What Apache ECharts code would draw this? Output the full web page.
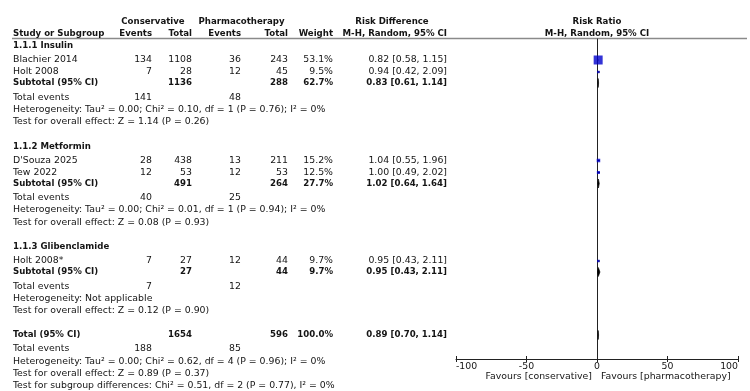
<!DOCTYPE html>
<html>
<head>
<meta charset="utf-8">
<script src="https://cdn.jsdelivr.net/npm/echarts@6/dist/echarts.min.js"></script>
<style>
  html, body { margin: 0; padding: 0; background: #fff; }
  #chart { width: 750px; height: 391px; }
</style>
</head>
<body>
<div id="chart"></div>
<script>
// study level data
const studies = ['Blachier 2014', 'Holt 2008', "D'Souza 2025", 'Tew 2022', 'Holt 2008*'];
const studyGroup = [0, 0, 1, 1, 2];
const consEvents = [134, 7, 28, 12, 7];
const consTotal = [1108, 28, 438, 53, 27];
const pharmEvents = [36, 12, 13, 12, 12];
const pharmTotal = [243, 45, 211, 53, 44];
const weights = [53.1, 9.5, 15.2, 12.5, 9.7];
const rr = [0.82, 0.94, 1.04, 1.00, 0.95];
const rrLo = [0.58, 0.42, 0.55, 0.49, 0.43];
const rrHi = [1.15, 2.09, 1.96, 2.02, 2.11];

// subgroups
const groupNames = ['1.1.1 Insulin', '1.1.2 Metformin', '1.1.3 Glibenclamide'];
const subConsTotal = [1136, 491, 27];
const subPharmTotal = [288, 264, 44];
const subWeight = [62.7, 27.7, 9.7];
const subRR = [0.83, 1.02, 0.95];
const subLo = [0.61, 0.64, 0.43];
const subHi = [1.14, 1.64, 2.11];
const subConsEvents = [141, 40, 7];
const subPharmEvents = [48, 25, 12];
const subHetero = [
  'Heterogeneity: Tau² = 0.00; Chi² = 0.10, df = 1 (P = 0.76); I² = 0%',
  'Heterogeneity: Tau² = 0.00; Chi² = 0.01, df = 1 (P = 0.94); I² = 0%',
  'Heterogeneity: Not applicable'
];
const subTest = [
  'Test for overall effect: Z = 1.14 (P = 0.26)',
  'Test for overall effect: Z = 0.08 (P = 0.93)',
  'Test for overall effect: Z = 0.12 (P = 0.90)'
];

// overall
const totalConsTotal = 1654;
const totalPharmTotal = 596;
const totalWeight = 100.0;
const totalRR = [0.89, 0.70, 1.14];
const totalEvents = [188, 85];
const totalNotes = [
  'Heterogeneity: Tau² = 0.00; Chi² = 0.62, df = 4 (P = 0.96); I² = 0%',
  'Test for overall effect: Z = 0.89 (P = 0.37)',
  'Test for subgroup differences: Chi² = 0.51, df = 2 (P = 0.77), I² = 0%'
];

const xTicks = [-100, -50, 0, 50, 100];
const favours = ['Favours [conservative]', 'Favours [pharmacotherapy]'];

// layout
const COL = { study: 13, consEv: 152, consTot: 192, phEv: 241, phTot: 288, weight: 333, ci: 447 };
const TXT = '#141414';
const REG = 9.35, BOLD = 8.6;
const PLOT = { left: 456, right: 738, top: 39, bottom: 359 };

const texts = [];
function txt(x, y, s, align, bold) {
  texts.push({
    type: 'text', x: x, y: y, silent: true,
    style: {
      text: String(s), fill: TXT,
      font: (bold ? 'bold ' + BOLD : REG) + 'px "DejaVu Sans"',
      align: align || 'left', verticalAlign: 'middle'
    }
  });
}
const f2 = v => v.toFixed(2);
const ciText = (m, l, h) => f2(m) + ' [' + f2(l) + ', ' + f2(h) + ']';
const pct = v => v.toFixed(1) + '%';

// headers
txt(153, 21.5, 'Conservative', 'center', true);
txt(241.5, 21.5, 'Pharmacotherapy', 'center', true);
txt(392, 21.5, 'Risk Difference', 'center', true);
txt(597, 21.5, 'Risk Ratio', 'center', true);
txt(COL.study, 33.5, 'Study or Subgroup', 'left', true);
txt(COL.consEv, 33.5, 'Events', 'right', true);
txt(COL.consTot, 33.5, 'Total', 'right', true);
txt(COL.phEv, 33.5, 'Events', 'right', true);
txt(COL.phTot, 33.5, 'Total', 'right', true);
txt(COL.weight, 33.5, 'Weight', 'right', true);
txt(COL.ci, 33.5, 'M-H, Random, 95% CI', 'right', true);
txt(597, 33.5, 'M-H, Random, 95% CI', 'center', true);

const squares = [], whiskers = [], diamonds = [];
const maxW = Math.max.apply(null, weights);

let y = 46;
groupNames.forEach((g, gi) => {
  txt(COL.study, y, g, 'left', true);
  y += 14;
  let first = true;
  studies.forEach((s, i) => {
    if (studyGroup[i] !== gi) return;
    if (!first) y += 12;
    first = false;
    txt(COL.study, y, s);
    txt(COL.consEv, y, consEvents[i], 'right');
    txt(COL.consTot, y, consTotal[i], 'right');
    txt(COL.phEv, y, pharmEvents[i], 'right');
    txt(COL.phTot, y, pharmTotal[i], 'right');
    txt(COL.weight, y, pct(weights[i]), 'right');
    txt(COL.ci, y, ciText(rr[i], rrLo[i], rrHi[i]), 'right');
    squares.push({ value: [rr[i], y], symbolSize: 9 * Math.pow(weights[i] / maxW, 0.75) });
    whiskers.push([rrLo[i], rrHi[i], y]);
  });
  y += 11;
  txt(COL.study, y, 'Subtotal (95% CI)', 'left', true);
  txt(COL.consTot, y, subConsTotal[gi], 'right', true);
  txt(COL.phTot, y, subPharmTotal[gi], 'right', true);
  txt(COL.weight, y, pct(subWeight[gi]), 'right', true);
  txt(COL.ci, y, ciText(subRR[gi], subLo[gi], subHi[gi]), 'right', true);
  diamonds.push([subLo[gi], subRR[gi], subHi[gi], y]);
  y += 14.5;
  txt(COL.study, y, 'Total events');
  txt(COL.consEv, y, subConsEvents[gi], 'right');
  txt(COL.phEv, y, subPharmEvents[gi], 'right');
  y += 12;
  txt(COL.study, y, subHetero[gi]);
  y += 12.5;
  txt(COL.study, y, subTest[gi]);
  y += 24.5;
});
y -= 0.5;
txt(COL.study, y, 'Total (95% CI)', 'left', true);
txt(COL.consTot, y, totalConsTotal, 'right', true);
txt(COL.phTot, y, totalPharmTotal, 'right', true);
txt(COL.weight, y, pct(totalWeight), 'right', true);
txt(COL.ci, y, ciText(totalRR[0], totalRR[1], totalRR[2]), 'right', true);
diamonds.push([totalRR[1], totalRR[0], totalRR[2], y]);
y += 14;
txt(COL.study, y, 'Total events');
txt(COL.consEv, y, totalEvents[0], 'right');
txt(COL.phEv, y, totalEvents[1], 'right');
totalNotes.forEach(n => { y += 12.3; txt(COL.study, y, n); });

// favours labels under the axis
txt(592, 376.5, favours[0], 'right');
txt(601, 376.5, favours[1], 'left');

const chart = echarts.init(document.getElementById('chart'));

const axisFont = { fontFamily: 'DejaVu Sans', fontSize: REG, color: TXT };

chart.setOption({
  animation: false,
  textStyle: { fontFamily: 'DejaVu Sans' },
  grid: {
    left: PLOT.left, top: PLOT.top,
    width: PLOT.right - PLOT.left, height: PLOT.bottom - PLOT.top,
    containLabel: false
  },
  xAxis: [
    {
      type: 'value', min: xTicks[0], max: xTicks[xTicks.length - 1], interval: 50,
      position: 'bottom',
      axisLine: { onZero: false, lineStyle: { color: '#222', width: 1 } },
      axisTick: { length: 3, lineStyle: { color: '#222' } },
      axisLabel: Object.assign({ margin: 3, alignMinLabel: 'left', alignMaxLabel: 'right',
        formatter: v => String(v) }, axisFont),
      splitLine: { show: false }
    },
    {
      type: 'value', min: xTicks[0], max: xTicks[xTicks.length - 1], interval: 50,
      position: 'bottom',
      axisLine: { show: false, onZero: false },
      axisTick: { inside: true, length: 3, lineStyle: { color: '#222' } },
      axisLabel: { show: false },
      splitLine: { show: false }
    }
  ],
  yAxis: {
    type: 'value', inverse: true, min: PLOT.top, max: PLOT.bottom,
    axisLine: { show: true, onZero: true, lineStyle: { color: '#222', width: 1 } },
    axisTick: { show: false },
    axisLabel: { show: false },
    splitLine: { show: false }
  },
  graphic: [
    {
      type: 'line', silent: true,
      shape: { x1: 12, y1: 38.5, x2: 747, y2: 38.5 },
      style: { stroke: '#8a8a8a', lineWidth: 1.5 }
    }
  ].concat(texts),
  series: [
    {
      type: 'custom',
      encode: { x: [0, 1], y: 2 },
      data: whiskers,
      renderItem: (params, api) => {
        const a = api.coord([api.value(0), api.value(2)]);
        const b = api.coord([api.value(1), api.value(2)]);
        return {
          type: 'line',
          shape: { x1: a[0], y1: a[1], x2: b[0], y2: b[1] },
          style: { stroke: '#000', lineWidth: 1 }
        };
      },
      z: 2
    },
    {
      type: 'scatter',
      symbol: 'rect',
      data: squares,
      itemStyle: { color: '#0000cc' },
      z: 3
    },
    {
      type: 'custom',
      encode: { x: [0, 1, 2], y: 3 },
      data: diamonds,
      renderItem: (params, api) => {
        const yy = api.value(3);
        const lo = api.coord([api.value(0), yy]);
        const mid = api.coord([api.value(1), yy]);
        const hi = api.coord([api.value(2), yy]);
        return {
          type: 'polygon',
          shape: { points: [[lo[0], lo[1]], [mid[0], mid[1] - 4.5], [hi[0], hi[1]], [mid[0], mid[1] + 4.5]] },
          style: { fill: '#000', stroke: '#000', lineWidth: 0.6 }
        };
      },
      z: 3
    }
  ]
});
</script>
</body>
</html>
